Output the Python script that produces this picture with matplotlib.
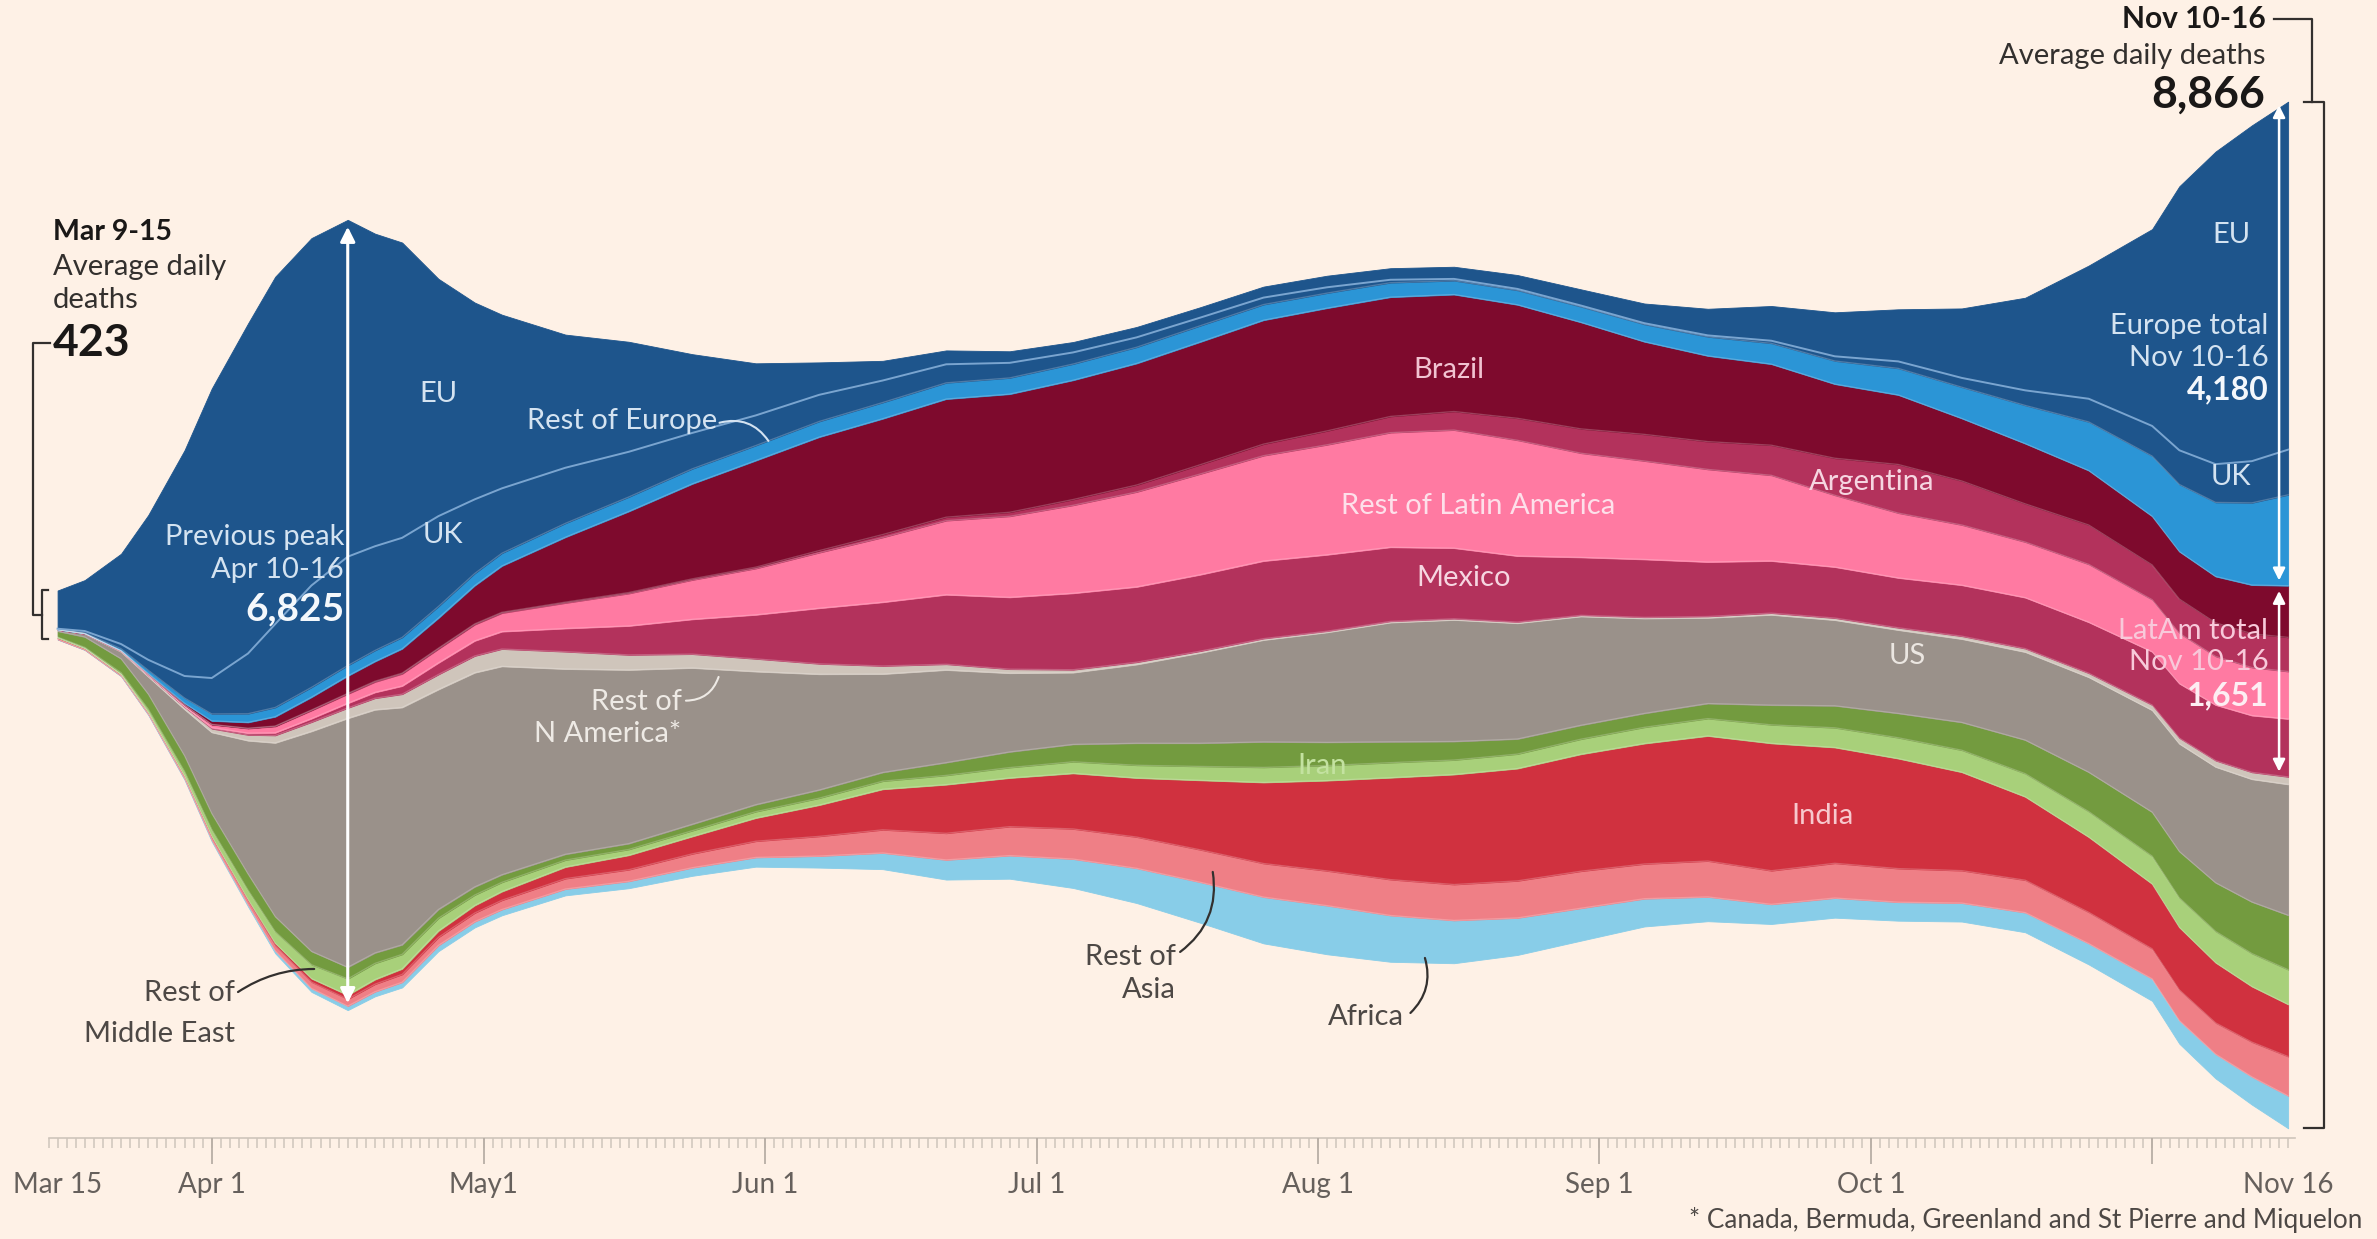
import numpy as np
import pandas as pd
import matplotlib
matplotlib.use("Agg")
from matplotlib import pyplot as plt

plt.rcParams["font.family"] = ["Lato", "DejaVu Sans"]

# 7-day averages of daily deaths, 2020 (month-day)
dates = ["03-15", "03-18", "03-22", "03-25", "03-29", "04-01", "04-05", "04-08", "04-12",
         "04-16", "04-19", "04-22", "04-26", "04-30", "05-03",
         "05-10", "05-17", "05-24", "05-31", "06-07", "06-14", "06-21", "06-28", "07-05",
         "07-12", "07-19", "07-26", "08-02", "08-09", "08-16", "08-23", "08-30", "09-06",
         "09-13", "09-20", "09-27", "10-04", "10-11", "10-18", "10-25", "11-01",
         "11-04", "11-08", "11-12", "11-16"]

eu = [330, 440, 780, 1250, 1950, 2500, 2850, 3000, 3000, 2909, 2700, 2550, 2050, 1700, 1500,
      1150, 950, 680, 450, 280, 170, 120, 100, 90, 90, 90, 95, 100, 100, 105, 120, 140, 170,
      230, 300, 380, 450, 600, 800, 1150, 1700,
      2280, 2700, 2900, 3005]
uk = [5, 15, 40, 90, 190, 310, 520, 720, 880, 940, 900, 860, 780, 640, 560,
      480, 390, 310, 260, 230, 190, 160, 130, 100, 85, 70, 60, 50, 25, 15, 12, 10, 10,
      12, 22, 40, 60, 80, 130, 200, 260,
      295, 330, 360, 390]
rest_europe = [3, 6, 15, 28, 45, 60, 75, 80, 85, 90, 95, 98, 100, 105, 110,
               120, 125, 130, 130, 135, 140, 140, 140, 140, 140, 140, 135, 130, 125, 120, 125, 135,
               150, 165, 180, 200, 230, 270, 330, 420, 520,
               580, 640, 710, 785]
brazil = [0, 1, 3, 8, 15, 30, 50, 80, 110, 150, 170, 210, 260, 330, 400,
          560, 700, 820, 920, 980, 1000, 1020, 1020, 1030, 1050, 1060, 1070, 1060, 1030, 1010,
          980, 920, 800, 740, 700, 640, 600, 540, 520, 470, 420,
          410, 400, 420, 446]
argentina = [0, 0, 0, 1, 1, 2, 3, 4, 5, 6, 7, 7, 7, 7, 7,
             8, 9, 10, 12, 18, 25, 30, 35, 50, 60, 80, 100, 120, 140, 160, 190, 210, 230, 240,
             260, 320, 420, 380, 330, 340, 300,
             295, 290, 292, 295]
rest_latam = [1, 2, 3, 7, 12, 25, 40, 55, 70, 80, 90, 105, 120, 140, 160,
              220, 280, 340, 400, 480, 560, 640, 700, 760, 820, 870, 910, 950, 990, 1020, 1000,
              900, 850, 800, 740, 620, 560, 520, 480, 500, 450,
              435, 420, 415, 410]
mexico = [0, 0, 1, 2, 5, 10, 15, 22, 30, 40, 50, 70, 100, 130, 150,
          200, 250, 300, 380, 480, 550, 600, 620, 660, 650, 660, 670, 660, 640, 610, 570, 500,
          500, 470, 450, 440, 430, 440, 440, 440, 460,
          470, 480, 490, 500]
rest_n_america = [1, 2, 5, 10, 20, 32, 50, 65, 80, 90, 100, 115, 130, 145, 150,
                  150, 130, 120, 110, 90, 70, 50, 35, 25, 20, 15, 12, 10, 10, 10, 10, 10, 10, 12,
                  15, 18, 20, 25, 30, 35, 45,
                  50, 55, 60, 65]
us = [12, 25, 60, 150, 400, 700, 1150, 1500, 1900, 2150, 2100, 2050, 1900, 1850, 1800,
      1600, 1500, 1350, 1150, 1000, 850, 800, 680, 620, 680, 780, 880, 950, 1030, 1050, 1000,
      940, 820, 740, 780, 740, 720, 720, 760, 820, 880,
      930, 1000, 1060, 1130]
iran = [50, 90, 120, 130, 135, 138, 140, 130, 115, 100, 90, 82, 75, 70, 65,
        50, 50, 55, 60, 70, 75, 110, 135, 150, 190, 200, 220, 200, 180, 160, 130, 120, 120, 130,
        170, 190, 210, 240, 290, 340, 380,
        400, 420, 445, 470]
rest_me = [5, 8, 15, 28, 40, 58, 80, 100, 120, 140, 140, 125, 110, 90, 80,
           60, 50, 50, 55, 60, 70, 80, 90, 100, 110, 120, 130, 130, 130, 125, 125, 130, 140, 150,
           160, 170, 180, 190, 200, 220, 240,
           255, 270, 285, 300]
india = [0, 0, 1, 2, 5, 8, 12, 20, 30, 35, 40, 48, 55, 65, 75,
         100, 125, 150, 200, 270, 350, 420, 420, 480, 510, 600, 700, 780, 880, 950, 970, 1010,
         1040, 1080, 1100, 1000, 950, 850, 720, 650, 560,
         540, 520, 480, 450]
rest_asia = [15, 13, 12, 15, 20, 27, 35, 45, 55, 60, 65, 68, 70, 75, 80,
             90, 100, 120, 140, 170, 200, 230, 250, 260, 270, 280, 290, 300, 310, 310, 320, 320,
             300, 310, 290, 300, 290, 280, 280, 270, 260,
             265, 270, 300, 340]
africa = [1, 1, 3, 5, 8, 11, 15, 22, 30, 35, 40, 45, 50, 50, 50,
          55, 60, 70, 80, 100, 140, 170, 200, 250, 300, 350, 400, 420, 400, 370, 320, 280,
          240, 210, 170, 170, 160, 160, 170, 180, 190,
          200, 210, 240, 280]

tick_dates = ["03-15", "04-01", "05-01", "06-01", "07-01", "08-01", "09-01", "10-01", "11-16"]
tick_labels = ["Mar 15", "Apr 1", "May1", "Jun 1", "Jul 1", "Aug 1", "Sep 1", "Oct 1", "Nov 16"]
month_starts = ["04-01", "05-01", "06-01", "07-01", "08-01", "09-01", "10-01", "11-01"]

BG = "#fef1e6"
DARK = "#33302e"
BLACK = "#1a1817"
GREY_TXT = "#4d4845"
FS = 21

start = pd.Timestamp("2020-03-15")


def to_days(lst):
    return np.array([(pd.Timestamp("2020-" + d) - start).days for d in lst])


days = to_days(dates)
series = [africa, rest_asia, india, rest_me, iran, us, rest_n_america,
          mexico, rest_latam, argentina, brazil, rest_europe, uk, eu]
colors = ["#88cde8", "#ef7f86", "#d0313f", "#a8d07a", "#739b3f", "#9a918a", "#cfc5bb",
          "#b3325c", "#ff7aa2", "#b3325c", "#7e0a2d", "#2b95d6", "#1e558c", "#1e558c"]

vals = np.array(series, dtype=float)
total = vals.sum(axis=0)
edges = -total / 2 + np.vstack([np.zeros(len(days)), np.cumsum(vals, axis=0)])

fig = plt.figure(figsize=(23.77, 12.39), dpi=100, facecolor=BG)
ax = fig.add_axes([0, 0, 1, 1])
ax.set_facecolor(BG)
ax.set_xlim(-6.35, 255.8)
ax.set_ylim(-5389, 5311)
ax.axis("off")

polys = ax.stackplot(days, *vals, baseline="sym", colors=colors)
for p, c in zip(polys, colors):
    p.set_edgecolor(c)
    p.set_linewidth(0.6)

# faint separators between layers, and the EU / UK line
for i in range(1, len(series)):
    if i == 13:
        continue
    ax.plot(days, edges[i], color="white", alpha=0.22, lw=0.9)
ax.plot(days, edges[13], color="#7aa5d0", lw=1.4)

# x axis with daily ticks
ax.plot([-1, 246.8], [-4516, -4516], color="#cfc5bb", lw=1.2)
ax.vlines(np.arange(-1, 247), -4516, -4602, color="#cfc5bb", lw=1.1)
ax.vlines(to_days(month_starts), -4516, -4740, color="#b8aea5", lw=1.3)
for d, lab in zip(to_days(tick_dates), tick_labels):
    ax.text(d, -4922, lab, ha="center", va="center", fontsize=20, color="#66605c")

# left annotation
t0 = total[0]
ax.text(-0.5, 3307, "Mar 9-15", ha="left", va="center", fontsize=20.5, fontweight="bold", color=BLACK)
ax.text(-0.5, 3005, "Average daily", ha="left", va="center", fontsize=FS, color=DARK)
ax.text(-0.5, 2720, "deaths", ha="left", va="center", fontsize=FS, color=DARK)
ax.text(-0.5, 2349, f"{int(t0):,}", ha="left", va="center", fontsize=32, fontweight="bold", color=BLACK)
ax.plot([-0.84, -2.7, -2.7, -1.72], [2349, 2349, 0, 0], color=DARK, lw=1.6)
ax.plot([-1.06, -1.72, -1.72, -1.06], [t0 / 2, t0 / 2, -t0 / 2, -t0 / 2], color=DARK, lw=1.6)

# previous peak arrow
pk = dates.index("04-16")
ax.annotate("", xy=(days[pk], -total[pk] / 2 + 60), xytext=(days[pk], total[pk] / 2 - 60),
            arrowprops=dict(arrowstyle="<|-|>", color="white", lw=2.2, mutation_scale=22,
                            shrinkA=0, shrinkB=0))
LB = "#d4e3f1"
ax.text(31.6, 674, "Previous peak", ha="right", va="center", fontsize=FS, color=LB)
ax.text(31.6, 389, "Apr 10-16", ha="right", va="center", fontsize=FS, color=LB)
ax.text(31.6, 52, f"{int(total[pk]):,}", ha="right", va="center", fontsize=28,
        fontweight="bold", color="#f4f8fc")

# right annotation
tn = total[-1]
europe = vals[11:, -1].sum()
latam = vals[7:11, -1].sum()
ax.text(243.5, 5147, "Nov 10-16", ha="right", va="center", fontsize=21.5, fontweight="bold", color=BLACK)
ax.text(243.5, 4827, "Average daily deaths", ha="right", va="center", fontsize=FS, color=DARK)
ax.text(243.5, 4490, f"{int(tn):,}", ha="right", va="center", fontsize=32, fontweight="bold", color=BLACK)
ax.plot([244.4, 248.6, 248.6], [5147, 5147, tn / 2], color=DARK, lw=1.6)
ax.plot([247.7, 249.9, 249.9, 247.7], [tn / 2, tn / 2, -tn / 2, -tn / 2], color=DARK, lw=1.6)

xa = days[-1] - 1
ax.annotate("", xy=(xa, tn / 2 - europe + 45), xytext=(xa, tn / 2 - 30),
            arrowprops=dict(arrowstyle="<|-|>", color="white", lw=1.8, mutation_scale=18,
                            shrinkA=0, shrinkB=0))
ax.annotate("", xy=(xa, tn / 2 - europe - latam + 45), xytext=(xa, tn / 2 - europe - 45),
            arrowprops=dict(arrowstyle="<|-|>", color="white", lw=1.8, mutation_scale=18,
                            shrinkA=0, shrinkB=0))
ax.text(239.7, 3281, "EU", ha="center", va="center", fontsize=FS, color=LB)
ax.text(243.8, 2496, "Europe total", ha="right", va="center", fontsize=FS, color=LB)
ax.text(243.8, 2219, "Nov 10-16", ha="right", va="center", fontsize=FS, color=LB)
ax.text(243.8, 1943, f"{int(europe):,}", ha="right", va="center", fontsize=23,
        fontweight="bold", color="#f4f8fc")
ax.text(239.7, 1192, "UK", ha="center", va="center", fontsize=FS, color=LB)
PK = "#f8c9da"
ax.text(243.8, -138, "LatAm total", ha="right", va="center", fontsize=FS, color=PK)
ax.text(243.8, -406, "Nov 10-16", ha="right", va="center", fontsize=FS, color=PK)
ax.text(243.8, -699, f"{int(latam):,}", ha="right", va="center", fontsize=23,
        fontweight="bold", color="#fdeef3")

# layer labels
ax.text(42.0, 1908, "EU", ha="center", va="center", fontsize=FS, color=LB)
ax.text(42.5, 691, "UK", ha="center", va="center", fontsize=FS, color=LB)
ax.text(62.3, 1675, "Rest of Europe", ha="center", va="center", fontsize=FS, color=LB)
ax.annotate("", xy=(78.4, 1503), xytext=(73.0, 1660),
            arrowprops=dict(arrowstyle="-", color=LB, lw=1.5, shrinkA=0, shrinkB=0,
                            connectionstyle="arc3,rad=-0.35"))
WG = "#eeeae5"
ax.text(68.8, -751, "Rest of", ha="right", va="center", fontsize=FS, color=WG)
ax.text(68.8, -1028, "N America*", ha="right", va="center", fontsize=FS, color=WG)
ax.annotate("", xy=(72.9, -535), xytext=(69.3, -740),
            arrowprops=dict(arrowstyle="-", color=WG, lw=1.5, shrinkA=0, shrinkB=0,
                            connectionstyle="arc3,rad=0.35"))
ax.text(153.4, 2116, "Brazil", ha="center", va="center", fontsize=FS, color="#f1c3d1")
ax.text(156.7, 941, "Rest of Latin America", ha="center", va="center", fontsize=FS, color="#fde0ea")
ax.text(155.1, 320, "Mexico", ha="center", va="center", fontsize=FS, color="#f6d6e1")
ax.text(200.1, 1149, "Argentina", ha="center", va="center", fontsize=FS, color="#f6d6e1")
ax.text(204.0, -354, "US", ha="center", va="center", fontsize=FS, color="#ebe6e1")
ax.text(139.5, -1304, "Iran", ha="center", va="center", fontsize=FS, color="#c3e2a0")
ax.text(194.6, -1736, "India", ha="center", va="center", fontsize=FS, color="#f7c8cd")

ax.text(123.3, -2953, "Rest of", ha="right", va="center", fontsize=FS, color=GREY_TXT)
ax.text(123.3, -3238, "Asia", ha="right", va="center", fontsize=FS, color=GREY_TXT)
ax.annotate("", xy=(127.4, -2219), xytext=(123.8, -2910),
            arrowprops=dict(arrowstyle="-", color=DARK, lw=1.6, shrinkA=0, shrinkB=0,
                            connectionstyle="arc3,rad=0.3"))
ax.text(148.5, -3471, "Africa", ha="right", va="center", fontsize=FS, color=GREY_TXT)
ax.annotate("", xy=(150.8, -2962), xytext=(149.2, -3437),
            arrowprops=dict(arrowstyle="-", color=DARK, lw=1.6, shrinkA=0, shrinkB=0,
                            connectionstyle="arc3,rad=0.3"))
ax.text(19.6, -3264, "Rest of", ha="right", va="center", fontsize=FS, color=GREY_TXT)
ax.text(19.6, -3618, "Middle East", ha="right", va="center", fontsize=FS, color=GREY_TXT)
ax.annotate("", xy=(28.3, -3057), xytext=(19.9, -3256),
            arrowprops=dict(arrowstyle="-", color=DARK, lw=1.6, shrinkA=0, shrinkB=0,
                            connectionstyle="arc3,rad=-0.15"))

fig.text(0.9937, 0.0153, "* Canada, Bermuda, Greenland and St Pierre and Miquelon",
         ha="right", va="center", fontsize=18.8, color=GREY_TXT)

fig.savefig("out.png", dpi=100, facecolor=BG)
